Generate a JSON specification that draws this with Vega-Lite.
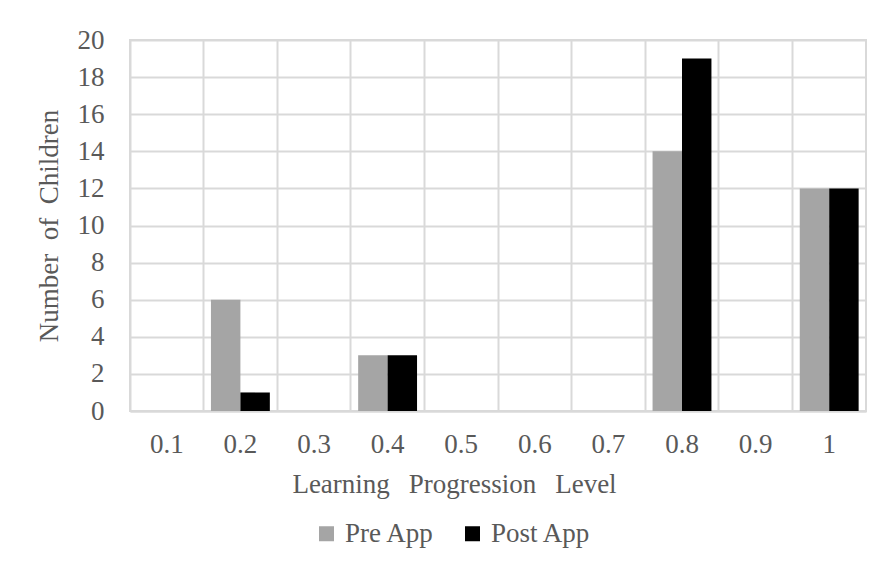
{
  "$schema": "https://vega.github.io/schema/vega-lite/v6.json",
  "autosize": {"type": "none"},
  "width": 736,
  "height": 371,
  "padding": {"left": 130, "top": 40, "right": 12, "bottom": 167},
  "background": "white",
  "config": {
    "font": "Liberation Serif",
    "view": {"stroke": "#d9d9d9", "strokeWidth": 2},
    "axis": {"labelFont": "Liberation Serif", "titleFont": "Liberation Serif", "labelColor": "#595959", "titleColor": "#595959", "labelFontSize": 27, "titleFontSize": 27, "titleFontWeight": "normal", "gridColor": "#d9d9d9", "gridWidth": 2, "domainColor": "#d9d9d9", "domainWidth": 2, "ticks": false},
    "legend": {"labelFont": "Liberation Serif", "labelFontSize": 27, "labelColor": "#595959"}
  },
  "data": {
    "values": [
      {"level": "0.1", "series": "Pre App", "count": 0},
      {"level": "0.1", "series": "Post App", "count": 0},
      {"level": "0.2", "series": "Pre App", "count": 6},
      {"level": "0.2", "series": "Post App", "count": 1},
      {"level": "0.3", "series": "Pre App", "count": 0},
      {"level": "0.3", "series": "Post App", "count": 0},
      {"level": "0.4", "series": "Pre App", "count": 3},
      {"level": "0.4", "series": "Post App", "count": 3},
      {"level": "0.5", "series": "Pre App", "count": 0},
      {"level": "0.5", "series": "Post App", "count": 0},
      {"level": "0.6", "series": "Pre App", "count": 0},
      {"level": "0.6", "series": "Post App", "count": 0},
      {"level": "0.7", "series": "Pre App", "count": 0},
      {"level": "0.7", "series": "Post App", "count": 0},
      {"level": "0.8", "series": "Pre App", "count": 14},
      {"level": "0.8", "series": "Post App", "count": 19},
      {"level": "0.9", "series": "Pre App", "count": 0},
      {"level": "0.9", "series": "Post App", "count": 0},
      {"level": "1", "series": "Pre App", "count": 12},
      {"level": "1", "series": "Post App", "count": 12}
    ]
  },
  "mark": {"type": "bar"},
  "encoding": {
    "x": {
      "field": "level", "type": "nominal", "sort": null,
      "scale": {"paddingInner": 0, "paddingOuter": 0},
      "axis": {"title": "Learning\u2002\u2009Progression\u2002\u2009Level", "labelAngle": 0, "bandPosition": 0, "labelOffset": 0, "labelPadding": 20, "titlePadding": 14, "titleX": 324, "grid": true, "domain": true}
    },
    "xOffset": {
      "field": "series", "type": "nominal", "sort": ["Pre App", "Post App"],
      "scale": {"paddingOuter": 0.25, "paddingInner": 0}
    },
    "y": {
      "field": "count", "type": "quantitative",
      "scale": {"domain": [0, 20], "nice": false},
      "axis": {"title": "Number\u00a0 of\u00a0 Children", "values": [0, 2, 4, 6, 8, 10, 12, 14, 16, 18, 20], "labelPadding": 26, "titlePadding": 14, "grid": true, "domain": false}
    },
    "color": {
      "field": "series", "type": "nominal", "sort": ["Pre App", "Post App"],
      "scale": {"domain": ["Pre App", "Post App"], "range": ["#a5a5a5", "#000000"]},
      "legend": {"title": null, "orient": "none", "legendX": 183, "legendY": 480, "direction": "horizontal", "symbolType": "square", "symbolSize": 225, "symbolStrokeWidth": 0, "columnPadding": 24, "labelOffset": 5, "padding": 0}
    }
  }
}
